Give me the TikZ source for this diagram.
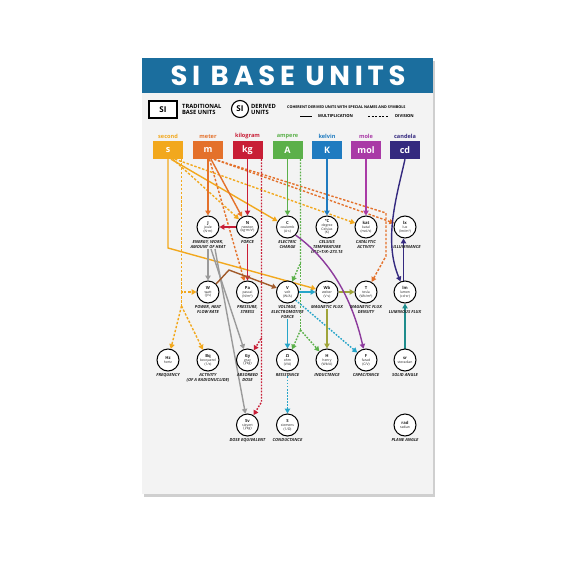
\documentclass[tikz,border=0pt]{standalone}
\usepackage{fontspec}
\setmainfont{Open Sans}
\newfontfamily\titlefont{Poppins}[LetterSpace=17]
\usetikzlibrary{arrows.meta}
\definecolor{ysec}{HTML}{F2A81D}
\definecolor{omet}{HTML}{E4712B}
\definecolor{rkg}{HTML}{C81E36}
\definecolor{gamp}{HTML}{5BB04A}
\definecolor{bkel}{HTML}{1F7BC0}
\definecolor{mmol}{HTML}{A93AA6}
\definecolor{icd}{HTML}{34297F}
\definecolor{cyanc}{HTML}{26A5C9}
\definecolor{olivec}{HTML}{9FA43A}
\definecolor{purpc}{HTML}{8C3A9C}
\definecolor{brownc}{HTML}{A15A2A}
\definecolor{grayc}{HTML}{9A9A9A}
\definecolor{tealc}{HTML}{1E8C8C}
\definecolor{headc}{HTML}{1B6E9E}
\definecolor{posterc}{HTML}{F3F3F3}
\definecolor{shadowc}{HTML}{CFCFCF}
\definecolor{txtc}{HTML}{222222}
\pgfdeclarelayer{bg}
\pgfdeclarelayer{edges}
\pgfsetlayers{bg,edges,main}
\tikzset{
 du/.style={circle,draw=black,line width=1pt,fill=white,minimum size=22pt,inner sep=0pt,align=center,text=txtc,font=\fontsize{3.4}{3.8}\selectfont},
 lab/.style={align=center,anchor=north,inner sep=0pt,text=txtc,font=\fontsize{4.2}{5}\selectfont\bfseries\itshape},
 ubox/.style={minimum width=30pt,minimum height=18pt,inner sep=0pt,text=white,font=\fontsize{9}{9}\selectfont\bfseries},
 uname/.style={inner sep=0pt,font=\fontsize{5.6}{6}\selectfont\bfseries},
 con/.style={line width=1.4pt,-{Triangle[length=4.8pt,width=5.2pt]}},
 dv/.style={con,dash pattern=on 2.4pt off 1.7pt},
 dt/.style={con,dash pattern=on 1.7pt off 1.4pt},
 dvn/.style={line width=1.4pt,dash pattern=on 2.4pt off 1.7pt},
 dtn/.style={line width=1.4pt,dash pattern=on 1.7pt off 1.4pt},
}
\newcommand\cu[3]{{\fontsize{4.2}{4.4}\selectfont\bfseries #1}\\#2\\#3}
\begin{document}
\begin{tikzpicture}[x=1pt,y=-1pt]
\useasboundingbox (0,0) rectangle (576,576);
\begin{pgfonlayer}{bg}
\fill[white] (0,0) rectangle (576,576);
\fill[shadowc] (144,61) rectangle (435,497);
\fill[posterc] (142,58) rectangle (433,494);
\fill[headc] (142,58) rectangle (433,93);
\end{pgfonlayer}
% title
\node[text=white,inner sep=0pt,font=\titlefont\bfseries\fontsize{27.5}{27.5}\selectfont] (title) at (288,76) {SI BASE UNITS};
% legend
\node[draw=black,line width=1.1pt,fill=white,minimum width=28pt,minimum height=17pt,inner sep=0pt,font=\fontsize{8}{8}\selectfont\bfseries] (sibox) at (163,109.5) {SI};
\node[anchor=west,align=left,inner sep=0pt,font=\fontsize{5.8}{6.8}\selectfont\bfseries] (trad) at (182,109.5) {TRADITIONAL\\BASE UNITS};
\node[circle,draw=black,line width=1.1pt,fill=white,minimum size=17pt,inner sep=0pt,font=\fontsize{8}{8}\selectfont\bfseries] (sicirc) at (240,109) {SI};
\node[anchor=west,align=left,inner sep=0pt,font=\fontsize{5.8}{6.8}\selectfont\bfseries] (der) at (251,109.5) {DERIVED\\UNITS};
\node[anchor=west,inner sep=0pt,font=\fontsize{3.75}{4}\selectfont\bfseries] (coh) at (287,107.5) {COHERENT DERIVED UNITS WITH SPECIAL NAMES AND SYMBOLS};
\coordinate (ml1) at (300,116.5); \coordinate (ml2) at (312,116.5);
\draw[line width=1pt] (ml1) -- (ml2);
\node[anchor=west,inner sep=0pt,font=\fontsize{4.1}{4.4}\selectfont\bfseries] (mult) at (318,116.5) {MULTIPLICATION};
\coordinate (dl1) at (368,116.5); \coordinate (dl2) at (388,116.5);
\draw[line width=1pt,dash pattern=on 2pt off 1.6pt] (dl1) -- (dl2);
\node[anchor=west,inner sep=0pt,font=\fontsize{4.1}{4.4}\selectfont\bfseries] (div) at (395,116.5) {DIVISION};
% base units
\node[ubox,fill=ysec] (s) at (168,150) {s};
\node[ubox,fill=omet] (m) at (208,150) {m};
\node[ubox,fill=rkg] (kg) at (247.5,150) {kg};
\node[ubox,fill=gamp] (A) at (287.5,150) {A};
\node[ubox,fill=bkel] (K) at (327,150) {K};
\node[ubox,fill=mmol] (mol) at (366,150) {mol};
\node[ubox,fill=icd] (cd) at (405,150) {cd};
\node[uname,text=ysec] (sn) at (168,136.5) {second};
\node[uname,text=omet] (mn) at (208,136.5) {meter};
\node[uname,text=rkg] (kgn) at (247.5,136.5) {kilogram};
\node[uname,text=gamp] (An) at (287.5,136.5) {ampere};
\node[uname,text=bkel] (Kn) at (327,136.5) {kelvin};
\node[uname,text=mmol] (moln) at (366,136.5) {mole};
\node[uname,text=icd] (cdn) at (405,136.5) {candela};
% derived units row 1
\node[du] (J) at (208,227) {\cu{J}{joule}{(N·m)}};
\node[du] (N) at (247.5,227) {\cu{N}{newton}{(kg·m/s²)}};
\node[du] (C) at (287.5,227) {\cu{C}{coulomb}{(A·s)}};
\node[du] (degC) at (327,227) {{\fontsize{4.2}{4.2}\selectfont\bfseries °C}\\degree\\Celsius\\(K)};
\node[du] (kat) at (366,227) {\cu{kat}{katal}{(mol/s)}};
\node[du] (lx) at (405,227) {\cu{lx}{lux}{(lm/m²)}};
% row 2
\node[du] (W) at (208,292) {\cu{W}{watt}{(J/s)}};
\node[du] (Pa) at (247.5,292) {\cu{Pa}{pascal}{(N/m²)}};
\node[du] (V) at (287.5,292) {\cu{V}{volt}{(W/A)}};
\node[du] (Wb) at (327,292) {\cu{Wb}{weber}{(V·s)}};
\node[du] (T) at (366,292) {\cu{T}{tesla}{(Wb/m²)}};
\node[du] (lm) at (405,292) {\cu{lm}{lumen}{(cd·sr)}};
% row 3
\node[du] (Hz) at (168,360) {{\fontsize{4.2}{4.4}\selectfont\bfseries Hz}\\hertz};
\node[du] (Bq) at (208,360) {\cu{Bq}{becquerel}{(1/s)}};
\node[du] (Gy) at (247.5,360) {\cu{Gy}{gray}{(J/kg)}};
\node[du] (ohm) at (287.5,360) {\cu{Ω}{ohm}{(V/A)}};
\node[du] (H) at (327,360) {\cu{H}{henry}{(Wb/A)}};
\node[du] (F) at (366,360) {\cu{F}{farad}{(C/V)}};
\node[du] (sr) at (405,360) {{\fontsize{4.2}{4.4}\selectfont\bfseries sr}\\steradian};
% row 4
\node[du] (Sv) at (247.5,425) {\cu{Sv}{sievert}{(J/kg)}};
\node[du] (S) at (287.5,425) {\cu{S}{siemens}{(1/Ω)}};
\node[du] (rad) at (405,425) {{\fontsize{4.2}{4.4}\selectfont\bfseries rad}\\radian};
% labels
\node[lab] (Jl) at (208,240.5) {ENERGY, WORK,\\AMOUNT OF HEAT};
\node[lab] (Nl) at (247.5,240.5) {FORCE};
\node[lab] (Cl) at (287.5,240.5) {ELECTRIC\\CHARGE};
\node[lab] (degCl) at (327,240.5) {CELSIUS\\TEMPERATURE\\t/°C=T/K–273.15};
\node[lab] (katl) at (366,240.5) {CATALYTIC\\ACTIVITY};
\node[lab] (lxl) at (407,245.5) {ILLUMINANCE};
\node[lab] (Wl) at (208,305.5) {POWER, HEAT\\FLOW RATE};
\node[lab] (Pal) at (247.5,305.5) {PRESSURE,\\STRESS};
\node[lab] (Vl) at (287.5,305.5) {VOLTAGE,\\ELECTROMOTIVE\\FORCE};
\node[lab] (Wbl) at (327,305.5) {MAGNETIC FLUX};
\node[lab] (Tl) at (366,305.5) {MAGNETIC FLUX\\DENSITY};
\node[lab] (lml) at (405,310) {LUMINOUS FLUX};
\node[lab] (Hzl) at (168,373) {FREQUENCY};
\node[lab] (Bql) at (208,373) {ACTIVITY\\(OF A RADIONUCLIDE)};
\node[lab] (Gyl) at (247.5,373) {ABSORBED\\DOSE};
\node[lab] (ohml) at (287.5,373) {RESISTANCE};
\node[lab] (Hl) at (327,373) {INDUCTANCE};
\node[lab] (Fl) at (366,373) {CAPACITANCE};
\node[lab] (srl) at (405,373) {SOLID ANGLE};
\node[lab] (Svl) at (247.5,438.5) {DOSE EQUIVALENT};
\node[lab] (Sl) at (287.5,438.5) {CONDUCTANCE};
\node[lab] (radl) at (405,438.5) {PLANE ANGLE};
% connectors
\begin{pgfonlayer}{edges}
% second
\draw[con,ysec] (s.south) -- (168,248) -- (Wb);
\draw[con,ysec] ([xshift=3pt]s.south) -- (C);
\draw[dv,ysec] ([xshift=5pt]s.south) -- (N);
\draw[dv,ysec] ([xshift=7pt]s.south) -- (kat);
\coordinate (sw1) at (181.5,292);
\coordinate (sw2) at (181.5,306);
\draw[dv,ysec] ([xshift=13.5pt]s.south) -- (sw1) -- (W);
\draw[dvn,ysec] (sw1) -- (sw2);
\draw[dv,ysec] (sw2) -- (Hz);
\draw[dv,ysec] (sw2) -- (Bq);
% meter
\draw[con,omet] (m) -- (J);
\draw[con,omet] ([xshift=3pt]m.south) -- (N);
\draw[dv,omet] ([xshift=1.5pt]m.south) -- (Pa);
\draw[dv,omet] ([xshift=6pt]m.south) -- (lx);
\draw[dv,omet] ([xshift=6pt]m.south) -- (386,213) -- (386,256) -- (T);
% kilogram
\draw[con,rkg] (kg) -- (N);
\coordinate (kg1) at (261.5,338);
\draw[dt,rkg] ([xshift=14pt]kg.south) -- (kg1) -- (Gy);
\draw[dt,rkg] (kg1) -- (261.5,402) -- (Sv);
\draw[con,rkg] (N) -- (J);
\draw[con,rkg] (Nl.south) -- (Pa);
% ampere
\draw[con,gamp] (A) -- (C);
\coordinate (a1) at (300.5,263);
\coordinate (a2) at (300.5,330);
\draw[dt,gamp] ([xshift=13pt]A.south) -- (a1) -- (V);
\draw[dtn,gamp] (a1) -- (a2);
\draw[dt,gamp] (a2) -- (ohm);
\draw[dt,gamp] (a2) -- (H);
% kelvin, mole, candela
\draw[con,bkel] (K) -- (degC);
\draw[con,mmol] (mol) -- (kat);
\draw[con,icd] (cd.south) .. controls (397,195) and (383,240) .. (lm);
\draw[con,icd] ([xshift=-1.5pt]lm.north) -- ([xshift=-1.5pt]lx.south);
\draw[con,tealc] (sr) -- (lm);
% derived
\draw[con,grayc] (Jl.south) -- (W);
\draw[con,grayc] ([xshift=3pt]Jl.south) -- (Gy);
\draw[con,grayc] ([xshift=7pt]Jl.south) -- (Sv);
\draw[con,brownc] (W.north east) -- (229,270) -- (V);
\draw[con,cyanc] (V) -- (Wb);
\draw[con,cyanc] (Vl.south) -- (ohm);
\draw[dt,cyanc] (V.south east) -- (F);
\draw[dt,cyanc] (ohml.south) -- (S);
\draw[con,olivec] (Wb) -- (T);
\draw[con,olivec] (Wbl.south) -- (H);
\draw[con,purpc] (C.south east) .. controls (330,260) and (352,298) .. (F);
\end{pgfonlayer}
\end{tikzpicture}
\end{document}
